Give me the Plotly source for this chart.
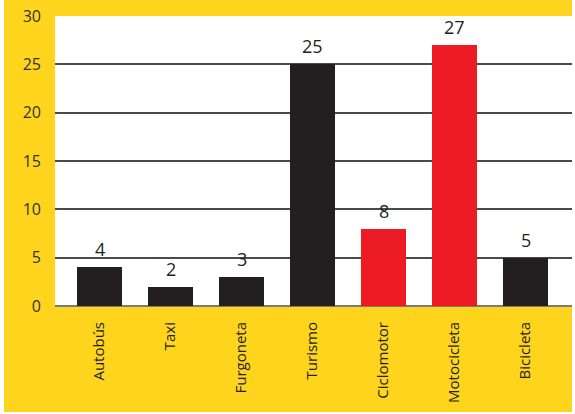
import plotly.graph_objects as go

# Vehicle categories and counts
categories = ["Autobús", "Taxi", "Furgoneta", "Turismo", "Ciclomotor", "Motocicleta", "Bicicleta"]
values = [4, 2, 3, 25, 8, 27, 5]
two_wheel_motor = [False, False, False, False, True, True, False]
y_ticks = [0, 5, 10, 15, 20, 25, 30]

DARK = "#231F20"
RED = "#ED1C24"
YELLOW = "#FED41D"
FONT = "Open Sans"

bar_colors = [RED if m else DARK for m in two_wheel_motor]

fig = go.Figure()
fig.add_trace(go.Bar(
    x=categories,
    y=values,
    marker=dict(color=bar_colors, line=dict(width=0)),
    width=0.634,
    hoverinfo="x+y",
))

# Value labels above each bar
annotations = [
    dict(x=c, y=v, xref="x", yref="y", text=str(v), showarrow=False,
         yanchor="bottom", yshift=4,
         font=dict(family=FONT, size=18, color=DARK))
    for c, v in zip(categories, values)
]

shapes = [
    # yellow frame behind the chart
    dict(type="rect", xref="paper", yref="paper",
         x0=-0.0986, x1=1.0, y0=-0.3655, y1=1.0552,
         fillcolor=YELLOW, line=dict(width=0), layer="below"),
    # white plotting area
    dict(type="rect", xref="paper", yref="paper",
         x0=0, x1=1, y0=0, y1=1,
         fillcolor="white", line=dict(width=0), layer="below"),
]

fig.update_layout(
    width=575, height=414,
    margin=dict(l=55, r=3, t=16, b=108),
    paper_bgcolor="white",
    plot_bgcolor="white",
    showlegend=False,
    bargap=0,
    font=dict(family=FONT, color=DARK),
    annotations=annotations,
    shapes=shapes,
    xaxis=dict(
        type="category",
        range=[-0.627, 6.655],
        tickangle=-90,
        tickfont=dict(family=FONT, size=15, color=DARK),
        showgrid=False,
        showline=False,
        zeroline=False,
        ticks="",
        ticklabelstandoff=12,
    ),
    yaxis=dict(
        range=[0, 30],
        tickvals=y_ticks,
        tickfont=dict(family=FONT, size=16, color="#333333"),
        showgrid=True,
        gridcolor="#4A4A4A",
        gridwidth=1.5,
        zeroline=True,
        zerolinecolor="#7A7A7A",
        zerolinewidth=1.5,
        showline=False,
        ticks="",
        ticklabelstandoff=13,
    ),
)

fig.write_html("out.html")
